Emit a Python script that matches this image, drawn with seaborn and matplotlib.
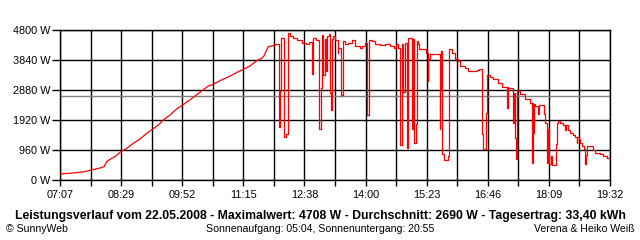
import matplotlib
matplotlib.use("Agg")
import matplotlib.pyplot as plt
import numpy as np
import pandas as pd
import seaborn as sns

# morning ramp: time in minutes since midnight, power in W
ramp_time = [427, 449.6, 460.9, 469.0, 481.2, 486.6, 490.2, 494.7, 501.5, 509.6, 517.3, 526.3,
             535.4, 544.4, 552.1, 560.2, 567.0, 576.0, 585.0, 593.2, 600.8, 609.9, 618.9, 627.9,
             634.7, 643.7, 652.8, 661.8, 668.6, 675.3, 684.4, 693.4, 700.2, 703.3, 706.9, 709.2,
             716.0, 720.3]
ramp_power = [192, 235, 267, 320, 384, 427, 587, 661, 747, 907, 1013, 1173,
              1312, 1493, 1621, 1760, 1920, 2080, 2272, 2400, 2528, 2688, 2848, 3008,
              3061, 3179, 3275, 3381, 3467, 3541, 3648, 3819, 3893, 3968, 4160, 4267,
              4299, 4340]

# midday/afternoon (cloudy) part: sampled step values
cloud_time = [720.3,
              723.0, 725.0, 726.4, 730.4, 733.1, 735.2, 738.5, 742.6, 748.0, 754.8, 760.2, 764.3,
              767.7, 769.7, 773.8, 778.5, 780.5, 781.9, 783.9, 785.3, 787.3, 788.7, 790.7, 792.7,
              794.1, 795.4, 796.8, 799.5, 802.9, 804.2, 808.3, 810.3, 813.0, 817.1, 822.5, 826.6,
              833.4, 836.1, 840.1, 842.8, 844.9, 849.6, 853.7, 860.5, 867.2, 874.0, 879.4, 882.1,
              884.8, 887.5, 890.9, 892.0, 894.3, 896.6, 898.8, 903.4, 905.5, 906.9, 909.2, 910.2,
              911.9, 913.3, 921.4, 922.8, 924.8, 925.9, 928.2, 940.4, 941.1, 942.4, 943.1, 945.1,
              946.5, 952.6, 953.9, 958.0, 962.0, 966.1, 968.8, 975.6, 979.7, 991.9, 994.6, 998.6,
              999.0, 1000.4, 1003.6, 1005.4, 1009.5, 1013.5, 1020.3, 1025.7, 1032.1, 1033.4, 1034.5,
              1041.0, 1042.0, 1043.3, 1044.7, 1046.0, 1048.1, 1050.1, 1056.9, 1063.6, 1065.9, 1067.3,
              1068.1, 1069.0, 1070.4, 1074.9, 1076.2, 1082.6, 1083.9, 1086.2, 1088.0, 1089.8, 1091.7,
              1093.0, 1098.4, 1099.8, 1102.0, 1104.3, 1108.3, 1111.0, 1112.4, 1115.1, 1117.8, 1121.9,
              1124.6, 1126.9, 1127.7, 1130.4, 1131.4, 1134.1, 1136.8, 1138.2, 1139.5, 1140.9, 1148.6,
              1151.7, 1158.5, 1162.5, 1167.9, 1172]
cloud_power = [4340,
               1710, 2850, 4555, 1380, 1460, 4693, 4610, 4555, 4470, 4395, 4360, 4430,
               3380, 4530, 4470, 1620, 2950, 4650, 3360, 4500, 3490, 4600, 4660, 2795,
               2230, 4500, 4600, 4470, 4050, 4235, 2710, 4450, 4360, 4400, 4470, 4300,
               4235, 4300, 4395, 2080, 4490, 4450, 4360, 4320, 4360, 4300, 4235, 4340,
               4235, 1120, 4340, 2820, 4400, 1040, 4555, 1620, 4500, 1200, 1780, 4450,
               4340, 4200, 4180, 4075, 3170, 3860, 4020, 4020, 1620, 2880, 4130, 820,
               650, 770, 4180, 4075, 3860, 3810, 3650, 3570, 3490, 3510, 3540, 3490,
               1460, 980, 2150, 3350, 3300, 3230, 3120, 2980, 2310, 2980, 2950,
               1830, 2800, 1350, 660, 2880, 2850, 2740, 2580, 2475, 555, 2475,
               1510, 2420, 2370, 2100, 2410, 2100, 1830, 555, 1620, 500, 770,
               480, 1140, 1830, 1880, 1830, 1770, 1600, 1770, 1600, 1500, 1450,
               1390, 1200, 1390, 1300, 1190, 1100, 980, 500, 800, 1090, 950,
               870, 830, 770, 710, 600]

y_ticks = [0, 960, 1920, 2880, 3840, 4800]
y_labels = ["0 W", "960 W", "1920 W", "2880 W", "3840 W", "4800 W"]
x_labels = ["07:07", "08:29", "09:52", "11:15", "12:38", "14:00", "15:23", "16:46", "18:09", "19:32"]
average_w = 2690

title = ("Leistungsverlauf vom 22.05.2008 - Maximalwert: 4708 W - Durchschnitt: 2690 W - "
         "Tagesertrag: 33,40 kWh")
footer_left = "\u00a9 SunnyWeb"
footer_mid = "Sonnenaufgang: 05:04, Sonnenuntergang: 20:55"
footer_right = "Verena & Heiko Wei\u00df"

sns.set_theme(style="white")
plt.rcParams["font.family"] = ["Liberation Sans", "DejaVu Sans"]

ramp_df = pd.DataFrame({"t": ramp_time, "w": ramp_power})
cloud_df = pd.DataFrame({"t": cloud_time, "w": cloud_power})

fig = plt.figure(figsize=(6.4, 2.4), dpi=100)
fig.patch.set_facecolor("white")
ax = fig.add_axes([60 / 640, 60 / 240, 550 / 640, 150 / 240])
ax.set_facecolor("white")

x0, x1 = ramp_time[0], cloud_time[-1]
major = np.linspace(x0, x1, len(x_labels))
minor = np.linspace(x0, x1, 2 * len(x_labels) - 1)

ax.set_xlim(x0, x1)
ax.set_ylim(y_ticks[0], y_ticks[-1])
ax.set_xticks(minor, minor=True)
ax.set_xticks(major)
ax.set_xticklabels(x_labels)
ax.set_yticks(y_ticks)
ax.set_yticklabels(y_labels)

ax.grid(True, which="both", axis="x", color="black", lw=1.0, zorder=1)
ax.grid(True, which="major", axis="y", color="black", lw=1.0, zorder=1)
ax.set_axisbelow(True)
ax.axhline(average_w, color="#808080", lw=1.0, zorder=2)

sns.lineplot(data=ramp_df, x="t", y="w", ax=ax, color="#ff0000", lw=0.9,
             estimator=None, sort=False, zorder=3)
sns.lineplot(data=cloud_df, x="t", y="w", ax=ax, color="#ff0000", lw=0.9,
             drawstyle="steps-post", estimator=None, sort=False, zorder=3)
ax.set_xlabel("")
ax.set_ylabel("")

for s in ax.spines.values():
    s.set_color("black")
    s.set_linewidth(1.0)

ax.tick_params(axis="x", which="both", direction="out", length=4, width=1.0,
               color="black", labelsize=7.8, pad=3, labelcolor="black", bottom=True)
ax.tick_params(axis="y", which="major", direction="out", length=6, width=1.0,
               color="black", labelsize=7.8, pad=1, labelcolor="black", left=True)

fig.text(320 / 640, 1 - 216 / 240, title, ha="center", va="center",
         fontsize=8.8, fontweight="bold", color="black")
fig.text(6 / 640, 1 - 229 / 240, footer_left, ha="left", va="center",
         fontsize=7.6, color="black")
fig.text(320 / 640, 1 - 229 / 240, footer_mid, ha="center", va="center",
         fontsize=7.6, color="black")
fig.text(635 / 640, 1 - 229 / 240, footer_right, ha="right", va="center",
         fontsize=7.6, color="black")

fig.savefig("out.png", dpi=100, facecolor="white")
